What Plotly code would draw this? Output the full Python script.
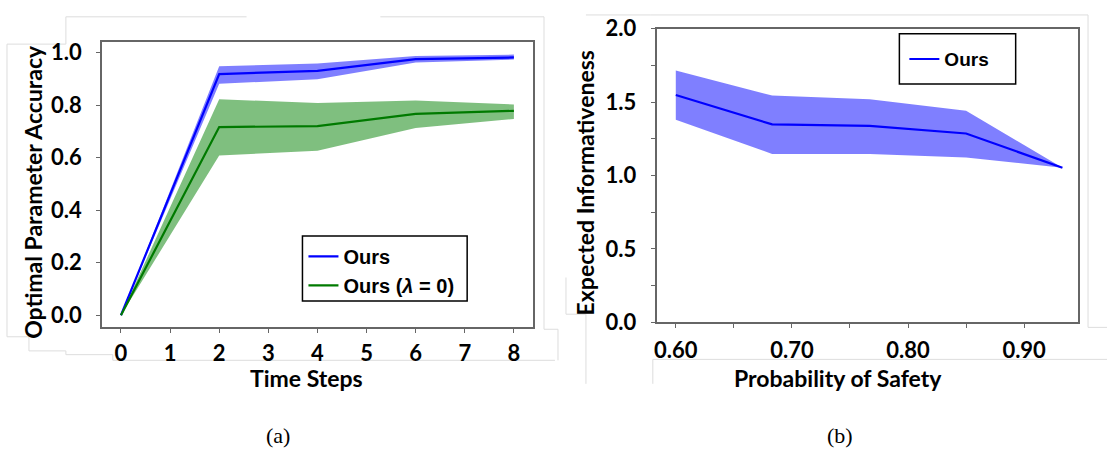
import plotly.graph_objects as go

W, H = 1107, 458

# ---------------- data (a) ----------------
time_steps = [0, 2, 4, 6, 8]
ours_mean = [0.0, 0.918, 0.930, 0.975, 0.981]
ours_upper = [0.0, 0.948, 0.958, 0.987, 0.992]
ours_lower = [0.0, 0.881, 0.898, 0.962, 0.973]
lam0_mean = [0.0, 0.716, 0.720, 0.766, 0.778]
lam0_upper = [0.0, 0.822, 0.808, 0.817, 0.802]
lam0_lower = [0.0, 0.608, 0.626, 0.713, 0.747]

# ---------------- data (b) ----------------
prob_safety = [0.600, 0.683, 0.767, 0.850, 0.933]
info_mean = [1.549, 1.348, 1.338, 1.286, 1.053]
info_upper = [1.716, 1.545, 1.519, 1.442, 1.053]
info_lower = [1.380, 1.147, 1.146, 1.122, 1.053]

x_ticks_a = [0, 1, 2, 3, 4, 5, 6, 7, 8]
y_ticks_a = [0.0, 0.2, 0.4, 0.6, 0.8, 1.0]
x_ticks_b = [0.60, 0.70, 0.80, 0.90]
y_ticks_b = [0.0, 0.5, 1.0, 1.5, 2.0]

BLUE = "#0000ff"
GREEN = "#007a00"
BLUE_FILL = "rgba(0,0,255,0.5)"
GREEN_FILL = "rgba(0,128,0,0.5)"


def px(x):
    return x / W


def py(y):
    return 1 - y / H


fig = go.Figure()


def band(x, lo, hi, color, xa, ya):
    return go.Scatter(x=list(x) + list(x)[::-1], y=list(hi) + list(lo)[::-1],
                      fill="toself", fillcolor=color, line=dict(width=0),
                      mode="lines", showlegend=False, hoverinfo="skip",
                      xaxis=xa, yaxis=ya)


fig.add_trace(band(time_steps, ours_lower, ours_upper, BLUE_FILL, "x", "y"))
fig.add_trace(band(time_steps, lam0_lower, lam0_upper, GREEN_FILL, "x", "y"))
fig.add_trace(go.Scatter(x=time_steps, y=ours_mean, mode="lines", name="Ours",
                         line=dict(color=BLUE, width=2.2), xaxis="x", yaxis="y",
                         legend="legend"))
fig.add_trace(go.Scatter(x=time_steps, y=lam0_mean, mode="lines",
                         name="Ours (<i>λ</i> = 0)",
                         line=dict(color=GREEN, width=2.2), xaxis="x", yaxis="y",
                         legend="legend"))

fig.add_trace(band(prob_safety, info_lower, info_upper, BLUE_FILL, "x2", "y2"))
fig.add_trace(go.Scatter(x=prob_safety, y=info_mean, mode="lines", name="Ours",
                         line=dict(color=BLUE, width=2.2), xaxis="x2", yaxis="y2",
                         legend="legend2"))

TICKFONT = dict(family="Lato", size=22, color="black", weight=700)
axis_common = dict(showline=True, mirror=True, linecolor="#666666", linewidth=1.5,
                   ticks="outside", ticklen=4, tickcolor="#666666", tickwidth=1,
                   showgrid=False, zeroline=False, tickfont=TICKFONT)

fig.update_layout(
    width=W, height=H, margin=dict(l=0, r=0, t=0, b=0),
    paper_bgcolor="white", plot_bgcolor="white",
    xaxis=dict(domain=[px(100), px(532)], range=[-0.39, 8.39], tickvals=x_ticks_a,
               ticklabelstandoff=2, anchor="y", **axis_common),
    yaxis=dict(domain=[py(332.7), py(30)], range=[-0.045, 1.039],
               tickvals=y_ticks_a, tickformat=".1f", ticklabelstandoff=10,
               anchor="x", **axis_common),
    xaxis2=dict(domain=[px(655.7), px(1078.3)], range=[0.5834, 0.9467],
                tickvals=x_ticks_b, tickformat=".2f", ticklabelstandoff=4,
                minor=dict(dtick=0.05, tick0=0.6, ticks="outside", ticklen=4, tickcolor="#666666"),
                anchor="y2", **axis_common),
    yaxis2=dict(domain=[py(327.5), py(15.7)], range=[0, 2.0],
                tickvals=y_ticks_b, tickformat=".1f", ticklabelstandoff=10,
                minor=dict(dtick=0.25, tick0=0, ticks="outside", ticklen=4, tickcolor="#666666"),
                anchor="x2", **axis_common),
    legend=dict(x=px(302), y=py(273), xanchor="left", yanchor="middle",
                borderwidth=0, bgcolor="rgba(0,0,0,0)",
                font=dict(family="Liberation Sans", size=20, color="black", weight=700),
                itemwidth=30, tracegroupgap=0),
    legend2=dict(x=px(904), y=py(48), xanchor="left", yanchor="middle",
                 borderwidth=0, bgcolor="rgba(0,0,0,0)",
                 font=dict(family="Liberation Sans", size=19, color="black", weight=700),
                 itemwidth=30),
    showlegend=True,
)

# legend frames
fig.add_shape(type="rect", xref="paper", yref="paper", x0=px(301), x1=px(466),
              y0=py(305), y1=py(236), line=dict(color="black", width=1.5),
              fillcolor="white", layer="below")
fig.add_shape(type="rect", xref="paper", yref="paper", x0=px(899), x1=px(1015.5),
              y0=py(74.3), y1=py(21), line=dict(color="black", width=1.5),
              fillcolor="white", layer="below")

# faint outlines of the pasted panels
outlines = [
    [(64, 32), (5, 32), (5, 343), (27, 343), (27, 358), (64, 358), (64, 362), (111, 362),
     (111, 368), (554, 368)],
    [(64, 32), (64, 3), (245, 3)],
    [(379, 3), (543, 3), (543, 335), (557, 335), (557, 368)],
    [(585, 1), (650, 1)],
    [(565, 280), (565, 319), (585, 319), (585, 393)],
    [(652, 393), (652, 367), (1107, 367)],
    [(650, 1), (1088, 1), (1088, 333), (1107, 333)],
]
for line in outlines:
    path = "M " + " L ".join(f"{px(a):.5f},{py(b):.5f}" for a, b in line)
    fig.add_shape(type="path", path=path, xref="paper", yref="paper",
                  line=dict(color="#dddddd", width=1), layer="below")

TITLEFONT = dict(family="Lato", size=23, color="black", weight=700)
ann = dict(xref="paper", yref="paper", showarrow=False, xanchor="center", yanchor="middle")
fig.add_annotation(text="Optimal Parameter Accuracy", textangle=-90, x=px(31), y=py(189),
                   font=TITLEFONT, **ann)
fig.add_annotation(text="Time Steps", x=px(305), y=py(387), font=TITLEFONT, **ann)
fig.add_annotation(text="Expected Informativeness", textangle=-90, x=px(585), y=py(179),
                   font=TITLEFONT, **ann)
fig.add_annotation(text="Probability of Safety", x=px(838), y=py(387), font=TITLEFONT, **ann)
CAPFONT = dict(family="Liberation Serif", size=22, color="black")
fig.add_annotation(text="(a)", x=px(276), y=py(448), font=CAPFONT, **ann)
fig.add_annotation(text="(b)", x=px(840), y=py(448), font=CAPFONT, **ann)

fig.write_html("out.html")
